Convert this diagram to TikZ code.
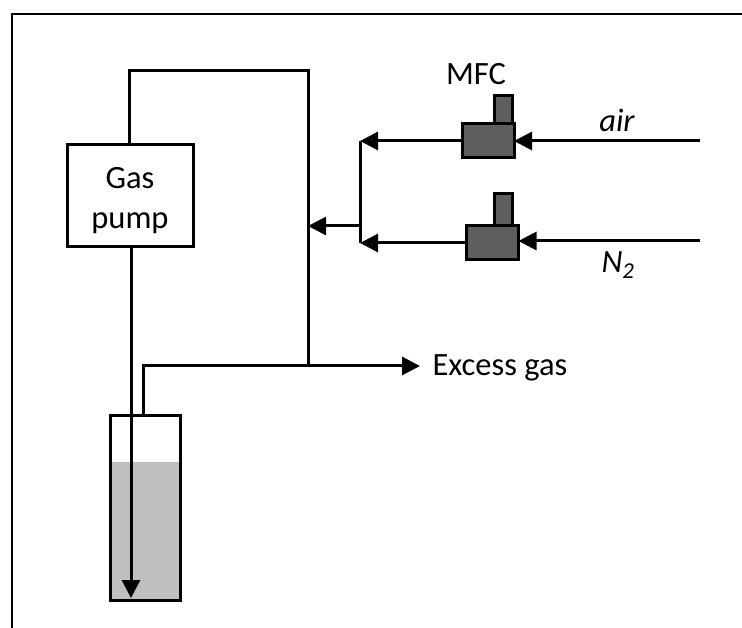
\documentclass[tikz,border=0pt]{standalone}
\usepackage{fontspec}
\setmainfont{Carlito}
\usetikzlibrary{arrows.meta}

\begin{document}
\begin{tikzpicture}[x=1pt,y=-1pt,>={Triangle[length=18pt,width=18pt]},line width=3pt,
		every node/.style={outer sep=0pt,inner sep=0pt},
		txt/.style={font=\fontsize{32.5}{40}\selectfont},
		mfc/.style={draw,fill=black!63,minimum width=52pt,minimum height=34pt},
		stem/.style={draw,fill=black!63,minimum width=18pt},
		arrow/.style={->}]
	\useasboundingbox (0,0) rectangle (742,628);
	\node[draw,line width=2.5pt,minimum width=760pt,minimum height=640pt,anchor=north west] (Frame) at (12,14) {};

	\fill[black!25] (110,462) rectangle (180,600);
	\node[draw,minimum width=70pt,minimum height=185pt,anchor=north west] (Vial) at (110,415) {};

	\node[draw,txt,align=center,minimum width=126pt,minimum height=102pt] (Pump) at (130,196) {\rule{0pt}{30pt}Gas\\pump};

	\node[stem,minimum height=28pt] (Stem1) at (503,110) {};
	\node[mfc] (Mfc1) at (488,141) {};
	\node[stem,minimum height=32pt] (Stem2) at (503,210) {};
	\node[mfc] (Mfc2) at (492.5,243) {};

	\node[txt] (Label) at (476,74) {MFC};
	\node[txt] (Air) at (617,120) {\itshape air};
	\node[txt] (Nitrogen) at (618,265) {\itshape N\textsubscript{2}};
	\node[txt,anchor=west] (Excess) at (432.5,368) {Excess gas};

	\coordinate (AirIn) at (700,141);
	\coordinate (NIn) at (700,241);
	\coordinate (Top1) at (360,141);
	\coordinate (Top2) at (360,243);
	\coordinate (Mid) at (360,226);
	\coordinate (Riser) at (308,226);
	\coordinate (Tee) at (308,366);
	\coordinate (VialOut) at (143,415);
	\coordinate (Corner) at (143,366);
	\coordinate (Bottom) at (131,598);
	\coordinate (Roof) at (129,71);

	\draw (Pump.north -| Roof) -- (Roof) -- (Roof -| Tee) -- (Tee);
	\draw (Top1) -- (Top2);
	\draw[arrow] (Mid) -- (Riser);
	\draw[arrow] (Mfc1) -- (Top1);
	\draw[arrow] (Mfc2) -- (Top2);
	\draw[arrow] (AirIn) -- (AirIn -| Mfc1.east);
	\draw[arrow] (NIn) -- (NIn -| Mfc2.east);
	\draw (VialOut) -- (Corner) -- (Tee);
	\draw[arrow,shorten >=12.5pt] (Tee) -- (Tee -| Excess.west);
	\draw[arrow] (Pump.south -| Bottom) -- (Bottom);
\end{tikzpicture}
\end{document}
